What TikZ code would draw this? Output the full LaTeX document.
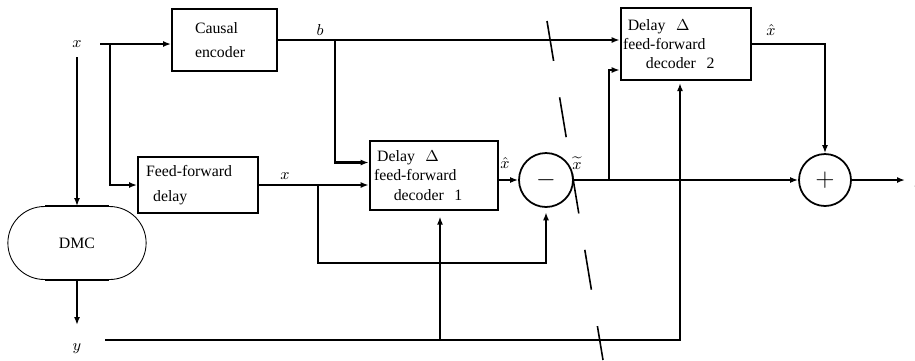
\documentclass[tikz,border=0pt]{standalone}
\usepackage{fontspec}
\setmainfont{Liberation Serif}
\usetikzlibrary{
    arrows.meta,
    positioning,
    shapes.misc,
    calc
}

\begin{document}
\begin{tikzpicture}[
        x=0.02cm,
        y=-0.02cm,
        font=\fontsize{9}{11}\selectfont,
        block/.style={
            draw,
            line width=1.1pt,
            align=left,
            inner ysep=2pt
        },
        decoder/.style={
            block,
            line width=1.5pt
        },
        sum/.style={
            draw,
            circle,
            line width=1pt,
            inner sep=0pt,
            font=\Large
        },
        channel/.style={
            draw,
            rounded rectangle,
            line width=0.5pt,
            minimum width=3cm,
            minimum height=1.46cm
        },
        arrow/.style={
            -{Latex[length=1.6mm,width=1.2mm]},
            line width=0.9pt
        },
        heavy/.style={
            line width=1.5pt
        },
        cut/.style={
            line width=0.9pt,
            dash pattern=on 23pt off 21pt
        }
    ]

    \useasboundingbox (0,0) rectangle (915,360);

    \node[block, minimum height=1.24cm, text width=1.18cm, inner xsep=0.46cm] (enc) at (224.5,40) {
        Causal\\[2.5pt]encoder
    };

    \node[block, minimum height=1.12cm, text width=2.08cm, inner xsep=0.16cm] (ffd) at (198,185) {
        Feed-forward\\[3pt]\hspace{0.45em}delay
    };

    \node[decoder, minimum height=1.38cm, text width=2.4cm, inner xsep=0.08cm] (dec1) at (434,175.5) {
        \hspace{0.2em}Delay~~$\Delta$\\feed-forward\\\hspace{1.25em}decoder~~1
    };

    \node[decoder, minimum height=1.44cm, text width=2.52cm, inner xsep=0.04cm] (dec2) at (686,44) {
        \hspace{0.3em}Delay~~$\Delta$\\feed-forward\\\hspace{1.45em}decoder~~2
    };

    \node[sum, minimum size=1.08cm] (minus) at (546,180) {$-$};
    \node[sum, minimum size=1.04cm] (plus) at (825,180) {$+$};

    \node[channel] (dmc) at (77,243) {DMC};
    \draw[line width=1.2pt] ($(dmc.north)+(-32,0)$) -- ($(dmc.north)+(32,0)$);
    \draw[line width=1.2pt] ($(dmc.south)+(-32,0)$) -- ($(dmc.south)+(32,0)$);

    \node (xin) at (77,44) {$x$};
    \node (ylab) at (77,349) {$y$};
    \node (blab) at (320,30) {$b$};
    \node (xlab) at (285,176) {$x$};
    \node (xhat1) at (505,163) {$\hat{x}$};
    \node (xtil) at (577,163) {$\widetilde{x}$};
    \node (xhat2) at (771,30) {$\hat{x}$};
    \node (xout) at (919,182) {$\hat{x}$};

    \coordinate (xs) at (100,44);
    \coordinate (jx) at (110,44);
    \coordinate (jb) at (335,40);
    \coordinate (jf) at (318,185);
    \coordinate (jt) at (609,180);
    \coordinate (yend) at (77,325);
    \coordinate (ys) at (105,340);
    \coordinate (jy) at (440,340);
    \coordinate (out) at (905,180);
    \coordinate (cuttop) at (547,21);
    \coordinate (cutbot) at (603,360);

    \draw[arrow] (xs) -- (xs -| enc.west);
    \draw[arrow] (jx) |- (ffd.west);
    \draw[arrow, shorten <=2pt] (xin) -- (dmc);
    \draw[arrow] (dmc) -- (yend);

    \draw[arrow] (enc.east) -- (enc.east -| dec2.west);
    \draw[arrow, heavy] (jb) |- ($(dec1.west)+(0,-13)$);

    \draw[arrow] (ffd.east) -- (ffd.east -| dec1.west);
    \draw[arrow, heavy, shorten >=2.5pt] (jf) -- ++(0,78) -| (minus.south);

    \draw[arrow] (dec1.east |- minus.west) -- (minus.west);
    \draw[arrow, heavy] (minus.east) -- (plus.west);
    \draw[arrow] (jt) |- ($(dec2.west)+(0,26)$);
    \draw[arrow, heavy] (dec2.east) -| (plus.north);
    \draw[arrow] (plus.east) -- (out);

    \draw[arrow, heavy, shorten >=1pt] (ys) -| ($(dec2.south)+(-6,0)$);
    \draw[arrow, heavy, shorten >=3pt] (jy) -- (jy |- dec1.south);

    \draw[cut] (cuttop) -- (cutbot);

\end{tikzpicture}
\end{document}
